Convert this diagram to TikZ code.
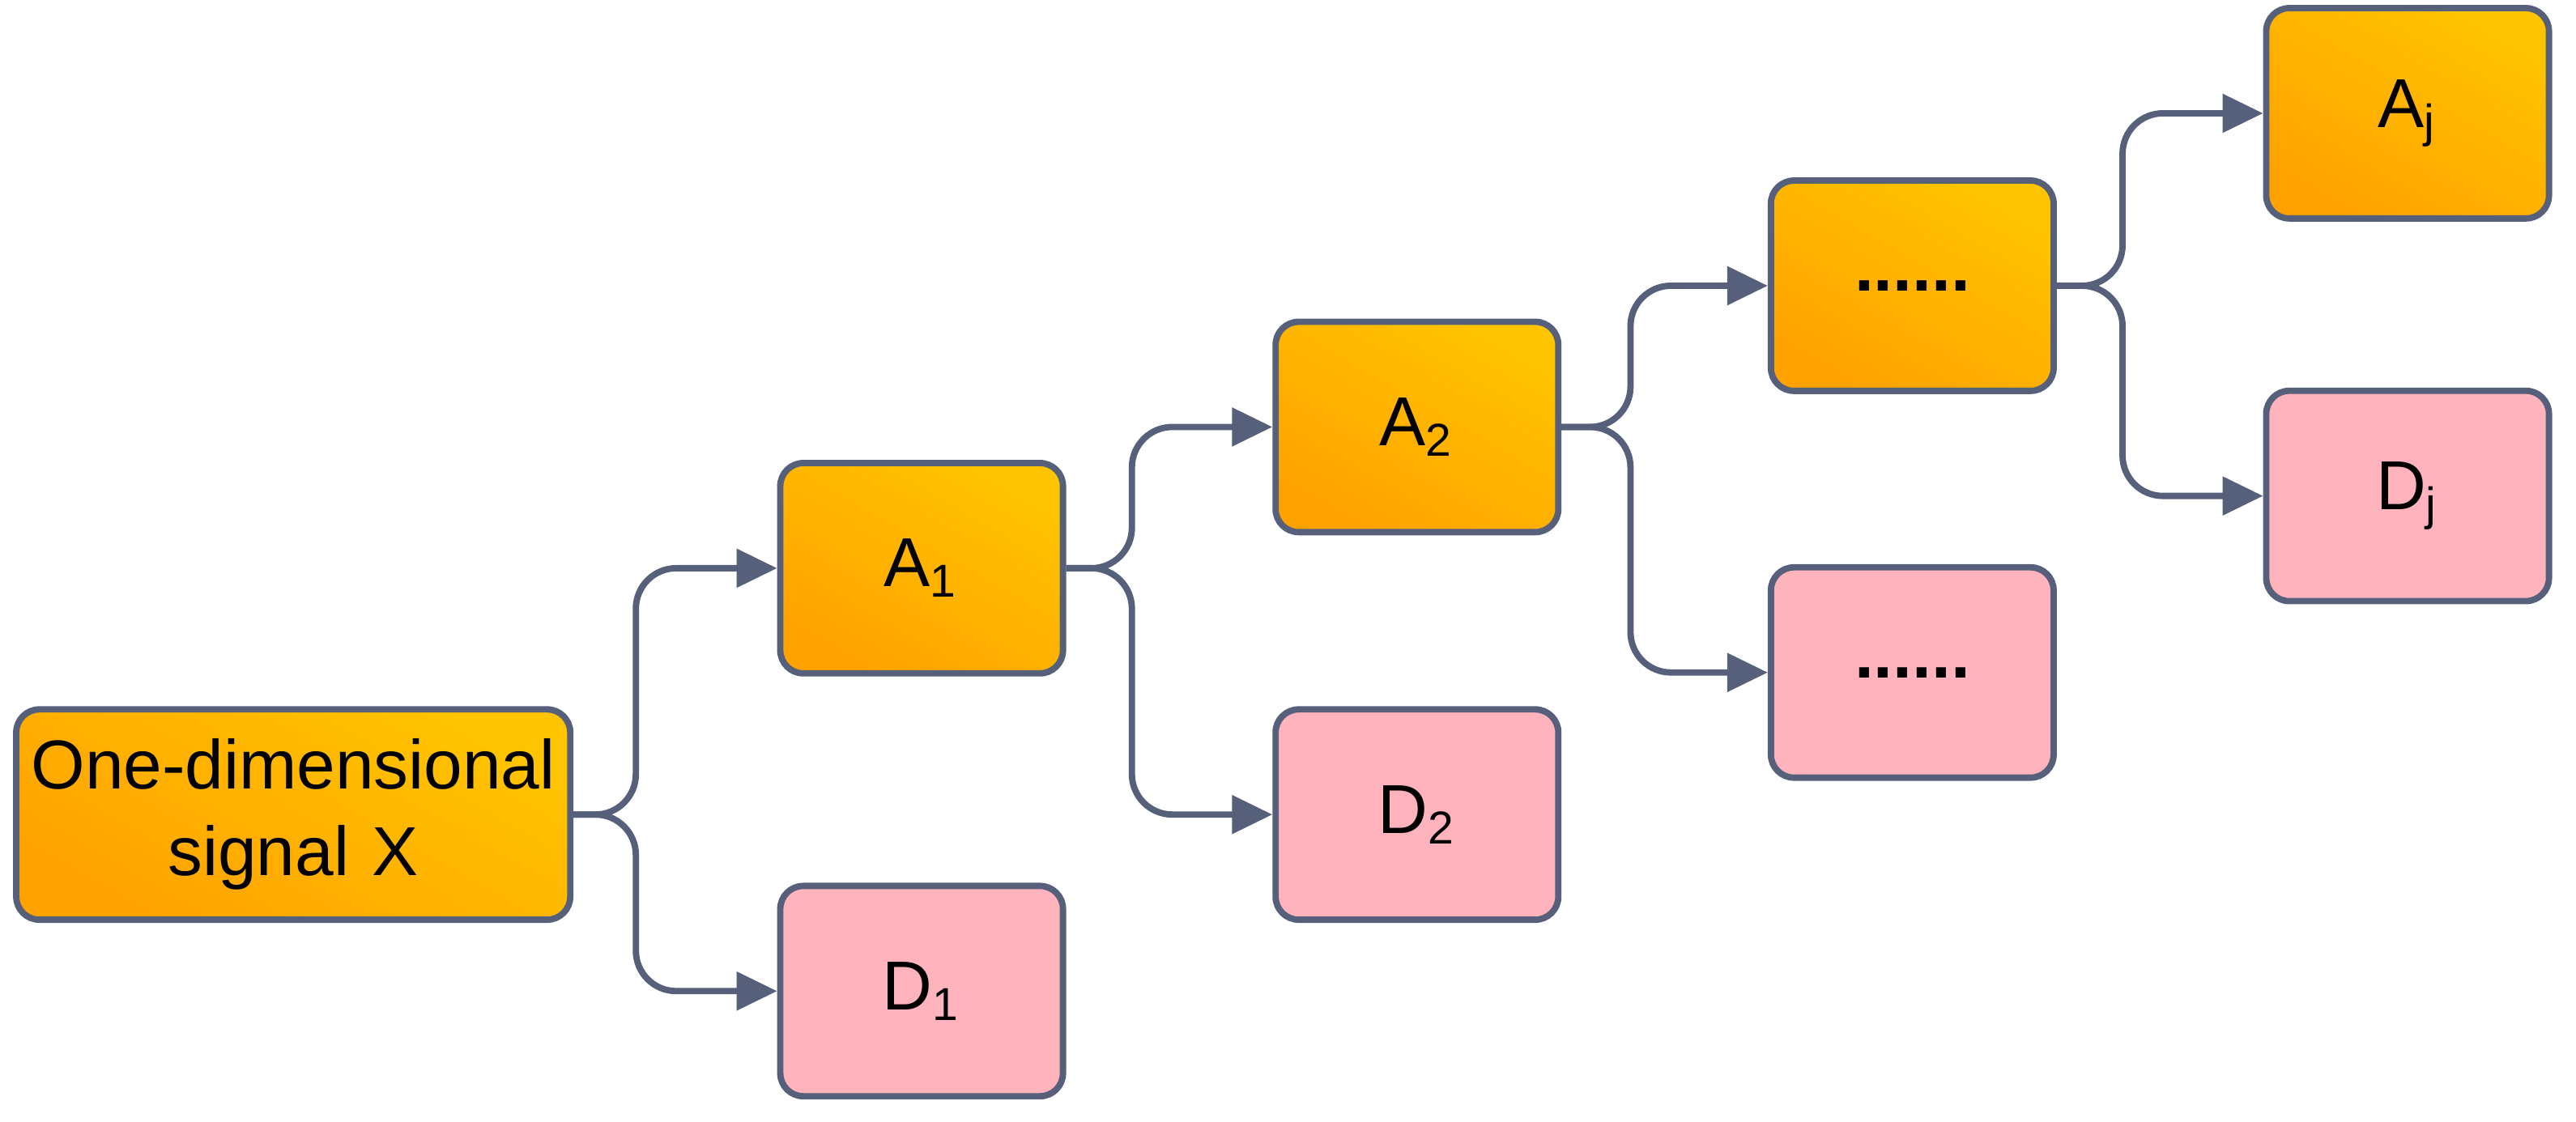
\documentclass[tikz,border=0pt]{standalone}
\usepackage{fontspec}
\setmainfont{Liberation Sans}
\usetikzlibrary{arrows.meta}
\definecolor{edge}{HTML}{56607A}
\definecolor{pinkf}{HTML}{FFB3BD}
\definecolor{ga}{HTML}{FFC400}
\definecolor{gb}{HTML}{FFA200}
\begin{document}
\begin{tikzpicture}[x=0.01cm,y=-0.01cm,
  box/.style={draw=edge,line width=1.1pt,rounded corners=4pt,minimum width=1.72cm,minimum height=1.28cm,align=center,font=\fontsize{12}{15}\selectfont,inner sep=1pt},
  abox/.style={box,shading=axis,top color=ga,bottom color=gb,shading angle=-30},
  dbox/.style={box,fill=pinkf},
  conn/.style={draw=edge,line width=1.1pt,rounded corners=7pt,-{Triangle[length=7pt,width=6.5pt]}}]
\useasboundingbox (0,0) rectangle (1568,683);
\node[abox,minimum width=3.37cm,text width=3.3cm] (X) at (178.5,496) {One-dimensional\\signal X};
\node[abox] (A1) at (561,346) {A\textsubscript{1}};
\node[dbox] (D1) at (561,603.5) {D\textsubscript{1}};
\node[abox] (A2) at (862.5,260) {A\textsubscript{2}};
\node[dbox] (D2) at (862.5,496) {D\textsubscript{2}};
\node[abox] (dA) at (1164,174) {\textbf{......}};
\node[dbox] (dD) at (1164,409.5) {\textbf{......}};
\node[abox] (Aj) at (1465.5,69) {A\textsubscript{j}};
\node[dbox] (Dj) at (1465.5,302) {D\textsubscript{j}};
\draw[conn] (X.east) -- ++(38,0) |- (A1.west);
\draw[conn] (X.east) -- ++(38,0) |- (D1.west);
\draw[conn] (A1.east) -- ++(40,0) |- (A2.west);
\draw[conn] (A1.east) -- ++(40,0) |- (D2.west);
\draw[conn] (A2.east) -- ++(42,0) |- (dA.west);
\draw[conn] (A2.east) -- ++(42,0) |- (dD.west);
\draw[conn] (dA.east) -- ++(40,0) |- (Aj.west);
\draw[conn] (dA.east) -- ++(40,0) |- (Dj.west);
\end{tikzpicture}
\end{document}
